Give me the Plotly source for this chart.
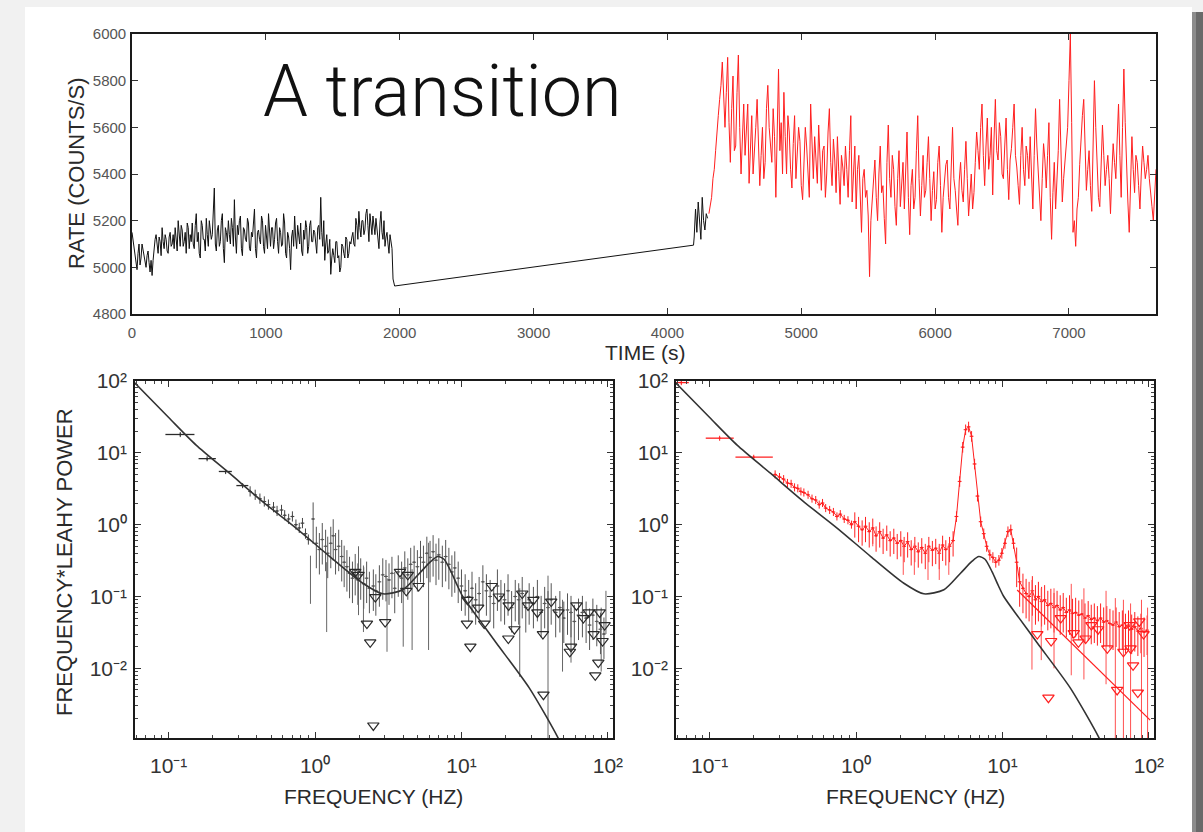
import plotly.graph_objects as go

W, H = 1203, 832
def fx(p): return p / W
def fy(p): return 1 - p / H

# ---------------- top panel: light curve ----------------
t_black1 = list(range(0, 1936, 15))
rate_black1 = [5150, 5080, 5030, 5060, 5010, 5100, 5040, 5000, 5070, 4980,
               4965, 5090, 5140, 5060, 5110, 5170, 5080, 5120, 5060, 5150,
               5100, 5080, 5130, 5200, 5090, 5160, 5110, 5060, 5170, 5140,
               5190, 5080, 5230, 5150, 5040, 5180, 5120, 5210, 5090, 5160,
               5140, 5340, 5070, 5180, 5110, 5230, 5020, 5150, 5200, 5100,
               5170, 5290, 5060, 5140, 5220, 5050, 5160, 5110, 5190, 5070,
               5130, 5250, 5040, 5160, 5100, 5200, 5060, 5140, 5230, 5090,
               5170, 5120, 5210, 5060, 5150, 5100, 5190, 5040, 5130, 4990,
               5160, 5220, 5080, 5140, 5190, 5050, 5120, 5170, 5090, 5200,
               5110, 5150, 5060, 5180, 5300, 5090, 5030, 5140, 5070, 4970,
               5080, 5020, 5110, 5050, 5000, 5090, 5040, 5120, 5060, 5100,
               5150, 5090, 5180, 5240, 5130, 5200, 5160, 5250, 5110, 5190,
               5220, 5140, 5170, 5080, 5240, 5120, 5090, 5150, 5060, 5100]
t_black1_mid = [7.5 + 15 * i for i in range(130)]
rate_black1_mid = [5120, 5050, 4990, 5100, 5040, 5070, 5010, 5050, 5020, 5030,
                   5030, 5120, 5080, 5130, 5050, 5110, 5140, 5070, 5130, 5090,
                   5140, 5170, 5070, 5120, 5180, 5090, 5150, 5190, 5080, 5110,
                   5100, 5180, 5110, 5060, 5200, 5120, 5070, 5140, 5200, 5120,
                   5230, 5100, 5160, 5090, 5200, 5080, 5170, 5110, 5140, 5210,
                   5090, 5130, 5180, 5200, 5080, 5170, 5120, 5210, 5080, 5150,
                   5190, 5080, 5150, 5120, 5220, 5090, 5180, 5080, 5130, 5170,
                   5080, 5190, 5110, 5170, 5090, 5230, 5060, 5150, 5080, 5130,
                   5090, 5130, 5180, 5100, 5070, 5160, 5200, 5060, 5180, 5110,
                   5160, 5090, 5170, 5120, 5150, 5200, 5100, 5060, 5120, 5040,
                   5050, 5110, 5040, 4980, 5100, 5060, 5130, 5040, 5110, 5130,
                   5100, 5210, 5120, 5170, 5200, 5140, 5230, 5180, 5230, 5140,
                   5160, 5210, 5110, 5190, 5150, 5200, 5130, 5100, 5140, 5080]
t_gap = [1950, 1962, 4195]
rate_gap = [4950, 4920, 5095]
t_black2 = list(range(4200, 4301, 10))
rate_black2 = [5130, 5250, 5150, 5280, 5180, 5120, 5300, 5200, 5160, 5230, 5210]
t_red = list(range(4310, 7651, 20))
rate_red = [5230, 5300, 5420, 5560, 5720, 5880, 5600, 5900, 5450, 5820,
            5520, 5910, 5400, 5700, 5580, 5360, 5650, 5480, 5720, 5350,
            5600, 5450, 5780, 5520, 5680, 5300, 5850, 5620, 5750, 5400,
            5580, 5340, 5650, 5470, 5540, 5290, 5600, 5420, 5700, 5380,
            5480, 5610, 5330, 5520, 5400, 5680, 5350, 5460, 5560, 5270,
            5430, 5520, 5300, 5650, 5380, 5250, 5480, 5150, 5420, 5330,
            4960, 5280, 5460, 5200, 5520, 5350, 5100, 5610, 5300, 5420,
            5180, 5500, 5360, 5250, 5580, 5140, 5420, 5300, 5650, 5220,
            5480, 5330, 5560, 5200, 5410, 5290, 5520, 5150, 5380, 5460,
            5250, 5600, 5330, 5180, 5450, 5280, 5540, 5220, 5400, 5320,
            5580, 5420, 5700, 5350, 5640, 5480, 5310, 5720, 5460, 5560,
            5380, 5640, 5290, 5510, 5700, 5430, 5270, 5600, 5350, 5480,
            5560, 5250, 5680, 5400, 5200, 5530, 5340, 5620, 5120, 5450,
            5350, 5720, 5280, 5450, 5600, 6000, 5150, 5090, 5300, 5560,
            5720, 5330, 5500, 5240, 5800, 5420, 5260, 5610, 5350, 5480,
            5230, 5530, 5380, 5700, 5300, 5850, 5420, 5150, 5560, 5320,
            5450, 5250, 5520, 5380, 5480, 5300, 5200, 5420]
t_red_mid = [4320 + 20 * i for i in range(167)]
rate_red_mid = [5260, 5380, 5500, 5650, 5780, 5700, 5750, 5620, 5680, 5500,
                5750, 5600, 5550, 5480, 5700, 5520, 5400, 5600, 5550, 5480,
                5380, 5680, 5600, 5450, 5560, 5620, 5500, 5400, 5560, 5650,
                5420, 5530, 5380, 5600, 5350, 5480, 5520, 5300, 5480, 5560,
                5360, 5440, 5500, 5300, 5580, 5450, 5550, 5320, 5410, 5480,
                5350, 5420, 5500, 5280, 5520, 5420, 5300, 5380, 5300, 5220,
                5200, 5380, 5300, 5400, 5320, 5210, 5450, 5380, 5480, 5260,
                5380, 5260, 5450, 5400, 5300, 5350, 5250, 5500, 5380, 5350,
                5300, 5450, 5380, 5330, 5250, 5450, 5350, 5300, 5440, 5300,
                5420, 5380, 5250, 5370, 5330, 5420, 5380, 5310, 5250, 5450,
                5500, 5600, 5480, 5520, 5420, 5600, 5550, 5500, 5620, 5400,
                5520, 5420, 5460, 5600, 5480, 5350, 5480, 5420, 5520, 5380,
                5400, 5480, 5520, 5300, 5380, 5460, 5480, 5300, 5320, 5250,
                5500, 5450, 5380, 5500, 5800, 5620, 5200, 5250, 5440, 5650,
                5500, 5420, 5350, 5520, 5600, 5300, 5450, 5480, 5420, 5380,
                5400, 5450, 5550, 5480, 5600, 5620, 5280, 5380, 5420, 5480,
                5350, 5400, 5450, 5420, 5380, 5260, 5320]

# ---------------- model curve (both spectra) ----------------
model_f = [0.0575, 0.1, 0.154, 0.26, 0.44, 0.745, 1.26, 2.12, 2.9, 3.98,
           5.17, 6.2, 6.89, 7.6, 8.5, 9.4, 10.2, 13.0, 17.3, 29.1, 45.4, 52]
model_P = [98, 31, 12.8, 5.2, 2.08, 0.89, 0.36, 0.153, 0.109, 0.124,
           0.211, 0.31, 0.36, 0.33, 0.22, 0.14, 0.1, 0.05, 0.0225, 0.0053, 0.0011, 0.0006]

# ---------------- left spectrum (black) ----------------
fL_bins = [0.12, 0.183, 0.245, 0.32]
PL_bins = [18, 8.3, 5.5, 3.5]
fL_bins_lo = [0.025, 0.023, 0.025, 0.03]
fL_bins_hi = [0.03, 0.027, 0.025, 0.03]

fL = [0.36, 0.39, 0.42, 0.45, 0.48, 0.52, 0.55, 0.59, 0.62, 0.66, 0.70, 0.74, 0.78, 0.82, 0.86, 0.90,
      0.97, 1.02, 1.07, 1.12, 1.18, 1.22, 1.28, 1.33, 1.38, 1.45, 1.52, 1.58, 1.65, 1.72, 1.80, 1.88, 1.96,
      2.05, 2.15, 2.25, 2.35, 2.50, 2.60, 2.75, 2.90, 3.05, 3.20, 3.35, 3.50, 3.70, 3.90, 4.10, 4.30,
      4.50, 4.75, 5.00, 5.25, 5.50, 5.80, 6.10, 6.40, 6.70, 7.00, 7.40, 7.80, 8.20, 8.60, 9.00, 9.50,
      10.0, 10.6, 11.2, 11.8, 12.5, 13.2, 14.0, 14.8, 15.7, 16.6, 17.6, 18.6, 19.7, 20.8, 22.0, 23.3,
      24.6, 26.0, 27.5, 29.0, 31.0, 33.0, 35.0, 37.0, 39.0, 41.0, 44.0, 47.0, 50.0, 53.0, 56.0, 59.0,
      63.0, 67.0, 71.0, 75.0, 79.0, 84.0, 89.0, 94.0]
PL = [2.9, 2.6, 2.3, 2.1, 1.9, 1.75, 1.55, 1.6, 1.35, 1.2, 1.3, 1.0, 0.9, 1.05, 0.75, 0.62,
      1.2, 0.55, 0.45, 0.62, 0.5, 0.4, 0.55, 0.7, 0.45, 0.5, 0.36, 0.3, 0.26, 0.21, 0.18, 0.23, 0.17,
      0.2, 0.15, 0.18, 0.13, 0.14, 0.12, 0.16, 0.2, 0.19, 0.17, 0.21, 0.13, 0.22, 0.18, 0.25, 0.2,
      0.28, 0.3, 0.26, 0.35, 0.3, 0.4, 0.35, 0.42, 0.32, 0.38, 0.3, 0.36, 0.28, 0.22, 0.25, 0.18,
      0.14, 0.12, 0.1, 0.13, 0.09, 0.11, 0.16, 0.12, 0.1, 0.08, 0.14, 0.1, 0.09, 0.12, 0.07, 0.1,
      0.09, 0.11, 0.07, 0.09, 0.08, 0.1, 0.06, 0.08, 0.07, 0.09, 0.06, 0.07, 0.05, 0.065, 0.06, 0.045,
      0.055, 0.06, 0.05, 0.04, 0.055, 0.045, 0.035, 0.03]

longL_f = [0.93, 1.2, 1.98, 2.14, 3.1, 4.0, 4.6, 5.96, 25, 39, 49, 56, 90, 97]
longL_hi = [0.37, 0.30, 0.5, 0.27, 0.18, 0.2, 0.24, 0.56, 0.13, 0.195, 0.09, 0.07, 0.07, 0.12]
longL_lo = [0.079, 0.032, 0.055, 0.032, 0.017, 0.02, 0.018, 0.018, 0.0076, 0.0008, 0.009, 0.012, 0.009, 0.03]

ulL_f = [1.88, 1.98, 2.58, 2.26, 2.38, 3.01, 2.5, 3.8, 4.3, 5.1, 4.2, 10.9, 11.5, 11.0, 16.1, 14.3,
         20.9, 23, 26, 28.5, 36.3, 36, 41, 55, 56, 61, 82, 86, 80, 92, 88, 13, 18, 21, 31, 33, 46,
         68, 74, 95]
ulL_P = [0.22, 0.2, 0.098, 0.042, 0.023, 0.044, 0.0016, 0.22, 0.2, 0.14, 0.12, 0.042, 0.02, 0.09,
         0.14, 0.042, 0.026, 0.035, 0.11, 0.075, 0.0043, 0.03, 0.085, 0.017, 0.02, 0.075, 0.008,
         0.012, 0.03, 0.024, 0.06, 0.07, 0.1, 0.075, 0.09, 0.06, 0.06, 0.05, 0.06, 0.04]

# ---------------- right spectrum (red) ----------------
fR_bins = [0.064, 0.117, 0.2]
PR_bins = [95, 16, 8.7]
fR_bins_lo = [0.006, 0.023, 0.05]
fR_bins_hi = [0.008, 0.029, 0.07]

fR = [0.28, 0.30, 0.32, 0.34, 0.36, 0.38, 0.40, 0.42, 0.44, 0.47,
      0.50, 0.53, 0.56, 0.59, 0.62, 0.66, 0.70, 0.74, 0.78, 0.83,
      0.88, 0.93, 0.98, 1.04, 1.10, 1.16, 1.23, 1.30, 1.37, 1.45,
      1.53, 1.62, 1.71, 1.81, 1.91, 2.02, 2.13, 2.25, 2.38, 2.52,
      2.66, 2.81, 2.97, 3.14, 3.32, 3.50, 3.70, 3.90, 4.10, 4.35,
      4.60, 4.85, 5.10, 5.35, 5.60, 5.87, 6.15, 6.45, 6.75, 7.10,
      7.45, 7.80, 8.20, 8.60, 9.00, 9.45, 9.90, 10.4, 10.9, 11.4,
      11.9, 12.5, 13.1, 13.8, 14.5, 15.2, 16.0, 16.8, 17.6, 18.5,
      19.4, 20.4, 21.4, 22.5, 23.6, 24.8, 26.0, 27.3, 28.7, 30.1,
      31.6, 33.2, 34.9, 36.6, 38.5, 40.4, 42.4, 44.5, 46.8, 49.1,
      51.6, 54.2, 56.9, 59.7, 62.7, 65.9, 69.2, 72.6, 76.3, 80.1,
      84.1, 88.3, 92.7, 97.3]
PR = [5.0, 4.6, 4.3, 3.8, 3.7, 3.3, 3.2, 2.9, 2.8, 2.6,
      2.3, 2.2, 1.9, 2.0, 1.7, 1.6, 1.5, 1.3, 1.4, 1.2,
      1.15, 1.0, 1.1, 0.95, 0.85, 0.95, 0.8, 0.9, 0.7, 0.8,
      0.65, 0.72, 0.6, 0.65, 0.55, 0.6, 0.5, 0.58, 0.45, 0.5,
      0.42, 0.48, 0.4, 0.5, 0.44, 0.47, 0.4, 0.52, 0.45, 0.5,
      0.6, 1.3, 4.0, 12, 21, 23, 17, 7, 2.5, 1.1,
      0.75, 0.5, 0.38, 0.35, 0.3, 0.32, 0.4, 0.55, 0.8, 0.85,
      0.55, 0.3, 0.16, 0.13, 0.11, 0.1, 0.12, 0.09, 0.1, 0.085,
      0.09, 0.075, 0.08, 0.07, 0.075, 0.065, 0.07, 0.06, 0.065, 0.058,
      0.06, 0.055, 0.057, 0.05, 0.054, 0.048, 0.05, 0.046, 0.05, 0.044,
      0.046, 0.042, 0.04, 0.044, 0.038, 0.04, 0.036, 0.04, 0.035, 0.038,
      0.033, 0.036, 0.032, 0.034]

longR_f = [15.9, 18.4, 22.5, 29.5, 36, 51, 59, 67, 75, 89, 98, 2.1, 2.5, 3.1, 3.7, 4.3, 1.3]
longR_hi = [0.17, 0.13, 0.13, 0.15, 0.13, 0.12, 0.095, 0.09, 0.08, 0.09, 0.07, 0.6, 0.55, 0.5, 0.5, 0.55, 0.8]
longR_lo = [0.0096, 0.013, 0.01, 0.008, 0.007, 0.006, 0.0008, 0.0008, 0.0008, 0.0008, 0.0008,
            0.2, 0.2, 0.17, 0.17, 0.2, 0.5]

ulR_f = [17.3, 21.5, 20.6, 30.7, 33, 37, 40.5, 52, 60.7, 67, 75, 78, 84, 74, 86, 25, 45, 92]
ulR_P = [0.03, 0.024, 0.0039, 0.031, 0.023, 0.026, 0.04, 0.019, 0.005, 0.017, 0.019, 0.011,
         0.0046, 0.04, 0.045, 0.05, 0.035, 0.03]

redfit_f = [12.6, 102]
redfit_P = [0.123, 0.0019]

# ---------------- styling constants ----------------
BLACK = '#2a2a2a'
RED = '#ff1f1f'
FONT = 'Liberation Sans, Arial, sans-serif'

fig = go.Figure()

# top panel (interleave the two sampling lists in time order)
blk = sorted(list(zip(t_black1, rate_black1)) + list(zip(t_black1_mid, rate_black1_mid)))
blk += list(zip(t_gap, rate_gap)) + list(zip(t_black2, rate_black2))
red = sorted(list(zip(t_red, rate_red)) + list(zip(t_red_mid, rate_red_mid)))
fig.add_trace(go.Scatter(x=[p[0] for p in blk], y=[p[1] for p in blk],
                         mode='lines', line=dict(color='#111111', width=1), xaxis='x', yaxis='y'))
fig.add_trace(go.Scatter(x=[p[0] for p in red], y=[p[1] for p in red], mode='lines',
                         line=dict(color=RED, width=1), xaxis='x', yaxis='y'))


def err_trace(x, y, ax, color, plus, minus, mode='markers', lw=1.0, ex=3):
    return go.Scatter(x=x, y=y, mode=mode, xaxis='x' + ax, yaxis='y' + ax,
                      line=dict(color=color, width=lw),
                      marker=dict(size=2, color=color),
                      error_y=dict(type='percent', symmetric=False, value=plus, valueminus=minus,
                                   color=color, thickness=1, width=0),
                      error_x=dict(type='percent', value=ex, color=color, thickness=1, width=0))


def long_trace(x, hi, lo, ax, color):
    return go.Scatter(x=x, y=hi, mode='markers', xaxis='x' + ax, yaxis='y' + ax,
                      marker=dict(size=1, color=color, opacity=0),
                      error_y=dict(type='data', symmetric=False, array=[0] * len(hi),
                                   arrayminus=[h - l for h, l in zip(hi, lo)],
                                   color=color, thickness=1, width=0))


# ---- left spectrum
fig.add_trace(go.Scatter(x=fL_bins, y=PL_bins, mode='markers', xaxis='x2', yaxis='y2',
                         marker=dict(size=2, color=BLACK),
                         error_x=dict(type='data', symmetric=False, array=fL_bins_hi,
                                      arrayminus=fL_bins_lo, color=BLACK, thickness=1.3, width=0),
                         error_y=dict(type='percent', value=8, color=BLACK, thickness=1, width=0)))
fig.add_trace(err_trace(fL[:16], PL[:16], '2', '#444444', 18, 15))
fig.add_trace(err_trace(fL[16:], PL[16:], '2', '#555555', 70, 55))
fig.add_trace(long_trace(longL_f, longL_hi, longL_lo, '2', '#666666'))
fig.add_trace(go.Scatter(x=ulL_f, y=ulL_P, mode='markers', xaxis='x2', yaxis='y2',
                         marker=dict(symbol='triangle-down-open', size=10, color=BLACK,
                                     line=dict(width=1.2, color=BLACK))))
fig.add_trace(go.Scatter(x=model_f, y=model_P, mode='lines', xaxis='x2', yaxis='y2',
                         line=dict(color='#333333', width=1.6, shape='spline', smoothing=0.7)))

# ---- right spectrum
fig.add_trace(go.Scatter(x=fR_bins, y=PR_bins, mode='markers', xaxis='x3', yaxis='y3',
                         marker=dict(size=2, color=RED),
                         error_x=dict(type='data', symmetric=False, array=fR_bins_hi,
                                      arrayminus=fR_bins_lo, color=RED, thickness=1.3, width=0),
                         error_y=dict(type='percent', value=8, color=RED, thickness=1, width=0)))
fig.add_trace(go.Scatter(x=fR, y=PR, mode='lines', xaxis='x3', yaxis='y3',
                         line=dict(color=RED, width=1)))
fig.add_trace(err_trace(fR[:22], PR[:22], '3', RED, 14, 12))
fig.add_trace(err_trace(fR[22:51], PR[22:51], '3', RED, 35, 40))
fig.add_trace(err_trace(fR[51:71], PR[51:71], '3', RED, 18, 16))
fig.add_trace(err_trace(fR[71:], PR[71:], '3', RED, 60, 55))
fig.add_trace(long_trace(longR_f, longR_hi, longR_lo, '3', '#ff5050'))
fig.add_trace(go.Scatter(x=ulR_f, y=ulR_P, mode='markers', xaxis='x3', yaxis='y3',
                         marker=dict(symbol='triangle-down-open', size=10, color=RED,
                                     line=dict(width=1.2, color=RED))))
fig.add_trace(go.Scatter(x=redfit_f, y=redfit_P, mode='lines', xaxis='x3', yaxis='y3',
                         line=dict(color=RED, width=1.2)))
fig.add_trace(go.Scatter(x=model_f, y=model_P, mode='lines', xaxis='x3', yaxis='y3',
                         line=dict(color='#333333', width=1.6, shape='spline', smoothing=0.7)))

# ---------------- axes ----------------
axline = dict(showline=True, linecolor='#1a1a1a', linewidth=1.6, mirror='allticks',
              ticks='inside', tickcolor='#333333', showgrid=False, zeroline=False,
              automargin=False)

time_ticks = [0, 1000, 2000, 3000, 4000, 5000, 6000, 7000]
rate_ticks = [4800, 5000, 5200, 5400, 5600, 5800, 6000]

SUP = {'-': '\u207b', '0': '\u2070', '1': '\u00b9', '2': '\u00b2'}
def p10(e):
    return '10' + ''.join(SUP[c] for c in str(e))


dec_x = [0.1, 1, 10, 100]
dec_y = [0.01, 0.1, 1, 10, 100]
minor_x = [m * 10.0 ** e for e in range(-2, 2) for m in range(2, 10)]
minor_y = [m * 10.0 ** e for e in range(-3, 2) for m in range(2, 10)]

logx = dict(axline, type='log', range=[-1.23, 2.035], tickmode='array', tickvals=dec_x,
            ticktext=[p10(e) for e in (-1, 0, 1, 2)], ticklen=6,
            tickfont=dict(family=FONT, size=21, color='#333333'), ticklabelstandoff=8,
            minor=dict(tickmode='array', tickvals=minor_x, ticks='inside', ticklen=3,
                       tickcolor='#444444'))
logy = dict(axline, type='log', range=[-2.97, 2.0], tickmode='array', tickvals=dec_y,
            ticktext=[p10(e) for e in (-2, -1, 0, 1, 2)], ticklen=6,
            tickfont=dict(family=FONT, size=21, color='#333333'), ticklabelstandoff=2,
            minor=dict(tickmode='array', tickvals=minor_y, ticks='inside', ticklen=3,
                       tickcolor='#444444'))

fig.update_layout(
    width=W, height=H, autosize=False,
    margin=dict(l=0, r=0, t=0, b=0, pad=0, autoexpand=False),
    paper_bgcolor='#f1f1f1', plot_bgcolor='white',
    showlegend=False,
    xaxis=dict(axline, domain=[fx(132), fx(1156)], range=[0, 7650], tickmode='array',
               tickvals=time_ticks, ticklen=6, anchor='y',
               tickfont=dict(family=FONT, size=15, color='#555555'), ticklabelstandoff=4),
    yaxis=dict(axline, domain=[fy(314), fy(34)], range=[4800, 6000], tickmode='array',
               tickvals=rate_ticks, ticklen=6, anchor='x',
               tickfont=dict(family=FONT, size=15, color='#555555'), ticklabelstandoff=1),
    xaxis2=dict(logx, domain=[fx(135), fx(613)], anchor='y2'),
    yaxis2=dict(logy, domain=[fy(738), fy(381)], anchor='x2'),
    xaxis3=dict(logx, domain=[fx(676), fx(1154)], anchor='y3'),
    yaxis3=dict(logy, domain=[fy(738), fy(381)], anchor='x3'),
)

# slide background (white card with shadow)
fig.add_shape(type='rect', xref='paper', yref='paper', x0=fx(25), x1=fx(1192), y0=0, y1=fy(7),
              fillcolor='white', line=dict(width=0), layer='below')
fig.add_shape(type='rect', xref='paper', yref='paper', x0=fx(1192), x1=fx(1196), y0=0, y1=fy(12),
              fillcolor='#8c8c8c', line=dict(width=0), layer='below')
fig.add_shape(type='rect', xref='paper', yref='paper', x0=fx(1196), x1=1, y0=0, y1=fy(12),
              fillcolor='#6a6a6a', line=dict(width=0), layer='below')

ann_font = dict(family=FONT, color='#2a2a2a')
fig.add_annotation(text='A transition', xref='paper', yref='paper', x=fx(442), y=fy(91),
                   showarrow=False, xanchor='center', yanchor='middle',
                   font=dict(family='Roboto, Liberation Sans, sans-serif', size=72, color='#111111',
                             weight=300))
fig.add_annotation(text='RATE (COUNTS/S)', xref='paper', yref='paper', x=fx(76), y=fy(174),
                   showarrow=False, textangle=-90, xanchor='center', yanchor='middle',
                   font=dict(ann_font, size=22))
fig.add_annotation(text='TIME (s)', xref='paper', yref='paper', x=fx(645), y=fy(352),
                   showarrow=False, xanchor='center', yanchor='middle',
                   font=dict(ann_font, size=21))
fig.add_annotation(text='FREQUENCY*LEAHY POWER', xref='paper', yref='paper', x=fx(64), y=fy(562),
                   showarrow=False, textangle=-90, xanchor='center', yanchor='middle',
                   font=dict(ann_font, size=22))
fig.add_annotation(text='FREQUENCY (HZ)', xref='paper', yref='paper', x=fx(373), y=fy(796),
                   showarrow=False, xanchor='center', yanchor='middle',
                   font=dict(ann_font, size=21))
fig.add_annotation(text='FREQUENCY (HZ)', xref='paper', yref='paper', x=fx(916), y=fy(796),
                   showarrow=False, xanchor='center', yanchor='middle',
                   font=dict(ann_font, size=21))

POST = ("document.documentElement.style.overflow='hidden';"
        "document.body.style.margin='0';document.body.style.padding='0';"
        "document.body.style.overflow='hidden';"
        "var gd=document.getElementsByClassName('plotly-graph-div')[0];"
        "gd.style.position='fixed';gd.style.left='0px';gd.style.top='0px';")

fig.write_html('out.html', config={'displayModeBar': False}, post_script=POST)
